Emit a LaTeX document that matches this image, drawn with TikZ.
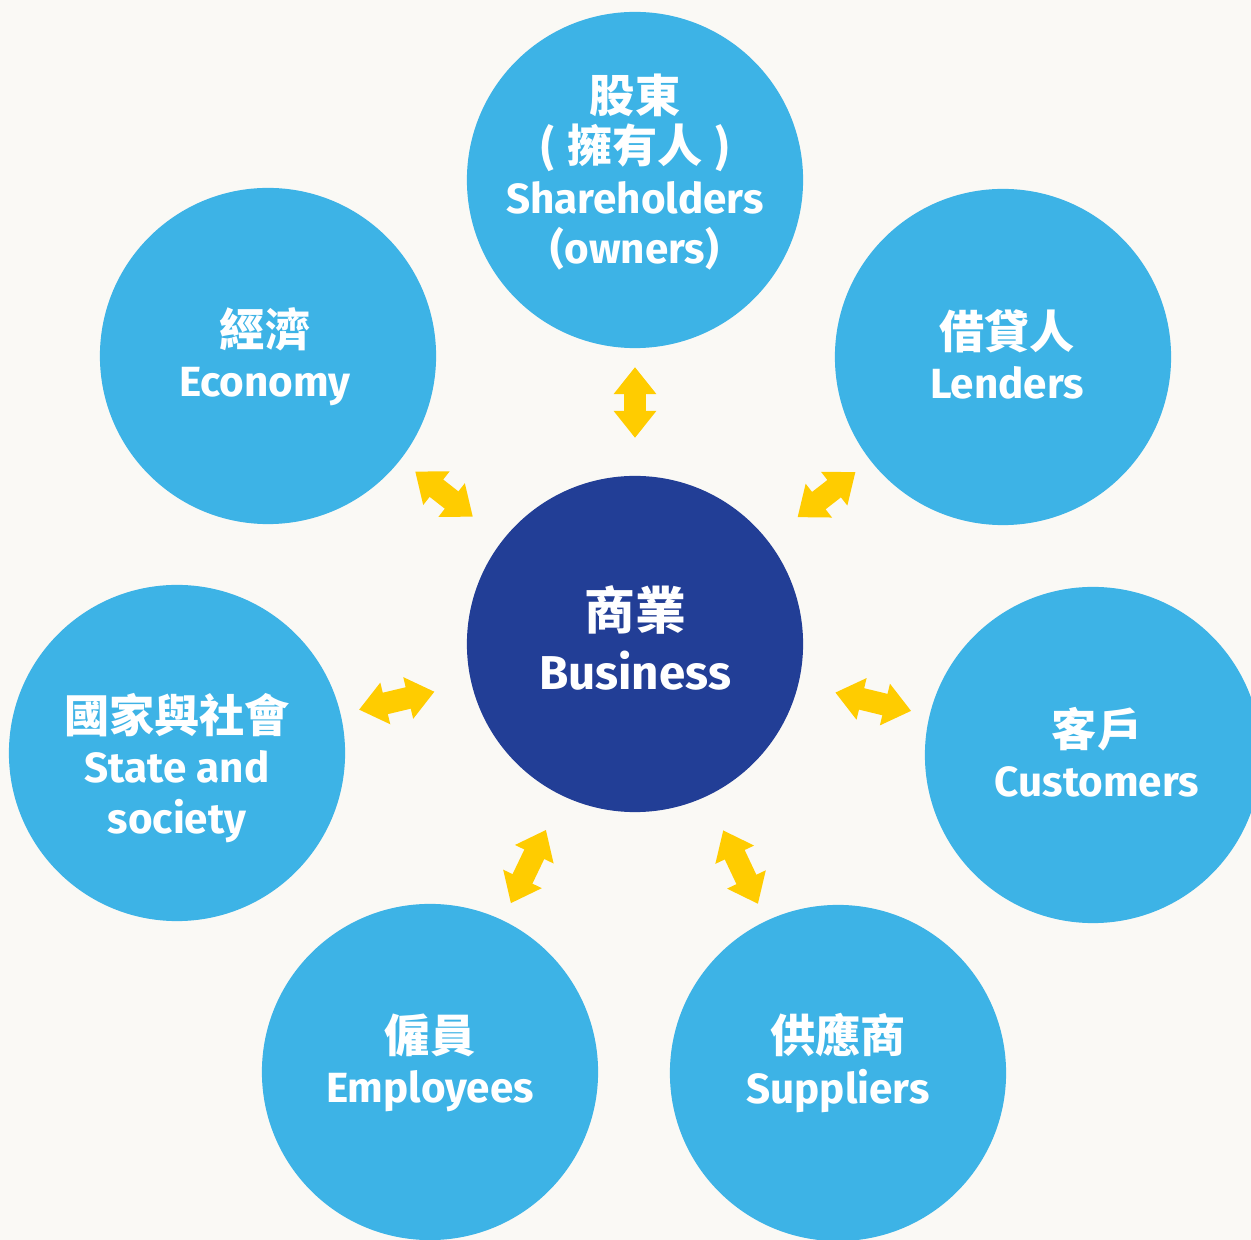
\documentclass[tikz,border=0pt]{standalone}
\usepackage{fontspec}
\setmainfont{Fira Sans}
\newfontfamily\cjk{Noto Sans CJK TC}[Scale=1.07]
\usetikzlibrary{arrows.meta}
\definecolor{paper}{RGB}{250,249,245}
\definecolor{sky}{RGB}{61,179,230}
\definecolor{navy}{RGB}{34,62,150}
\definecolor{sun}{RGB}{255,204,0}
\newcommand\zh[1]{{\cjk\bfseries #1}}
\tikzset{
    party/.style={circle, fill=sky, minimum size=3.36cm, inner sep=0pt, outer sep=0pt},
    core/.style={party, fill=navy},
    tag/.style={text=white, align=center, inner sep=0pt, font=\bfseries\fontsize{12}{14.3}\selectfont},
    bigtag/.style={tag, font=\bfseries\fontsize{13.5}{17}\selectfont},
    link/.style={draw, color=sun, line width=2.2mm, {Triangle[width=4.1mm,length=2.7mm]}-{Triangle[width=4.1mm,length=2.7mm]}, shorten <=1.9mm, shorten >=3.8mm}
}
\begin{document}
\begin{tikzpicture}[x=0.01cm, y=-0.01cm]
    \useasboundingbox (0,0) rectangle (1251,1240);
    \fill[paper] (0,0) rectangle (1251,1240);

    \node[core] (biz) at (635,644) {};
    \node[party] (share) at (635,180) {};
    \node[party] (eco) at (268,356) {};
    \node[party] (lend) at (1003,357) {};
    \node[party] (state) at (177,753) {};
    \node[party] (cust) at (1093,755) {};
    \node[party] (emp) at (430,1072) {};
    \node[party] (sup) at (838,1073) {};

    \node[bigtag] (biztxt) at (635,638) {\zh{商業}\\Business};
    \node[tag] (sharetxt) at (635,172) {\zh{股東}\\\zh{( 擁有人 )}\\Shareholders\\(owners)};
    \node[tag] (ecotxt) at (265,357) {\zh{經濟}\\Economy};
    \node[tag] (lendtxt) at (1007,354) {\zh{借貸人}\\Lenders};
    \node[tag] (statetxt) at (177,768) {\zh{國家與社會}\\State and\\society};
    \node[tag] (custtxt) at (1097,752) {\zh{客戶}\\Customers};
    \node[tag] (emptxt) at (430,1063) {\zh{僱員}\\Employees};
    \node[tag] (suptxt) at (838,1063) {\zh{供應商}\\Suppliers};

    \path[link]
      (share) edge (biz)
      (eco) edge (biz)
      (lend) edge (biz)
      (state) edge (biz)
      (cust) edge (biz)
      (emp) edge (biz)
      (sup) edge (biz);
\end{tikzpicture}
\end{document}
